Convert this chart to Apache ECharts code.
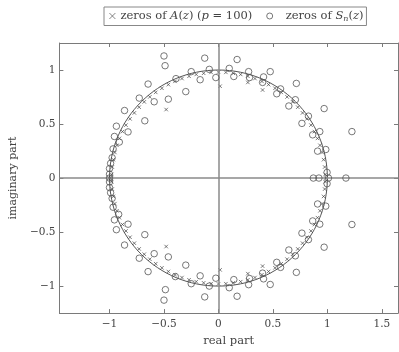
<!DOCTYPE html>
<html>
<head>
<meta charset="utf-8">
<script src="https://cdn.jsdelivr.net/npm/echarts@6/dist/echarts.min.js"></script>
<style>
html,body{margin:0;padding:0;background:#fff;}
#c{width:399px;height:352px;}
</style>
</head>
<body>
<div id="c"></div>
<script>
// ---- data ----
const realTicks = [-1, -0.5, 0, 0.5, 1, 1.5];
const imagTicks = [-1, -0.5, 0, 0.5, 1];
const seriesNames = ['zeros of A(z) (p = 100)', 'zeros of S_n(z)'];

// zeros of A(z), p = 100 (crosses)
const zerosA = [
  [0.985,0.0],[0.98,0.034],[0.975,0.102],[0.965,0.170],[0.951,0.237],[0.932,0.303],[0.909,0.367],
  [0.881,0.430],[0.849,0.490],[0.812,0.548],[0.772,0.603],[0.728,0.656],[0.681,0.705],
  [0.630,0.751],[0.576,0.793],[0.519,0.831],[0.460,0.865],[0.399,0.895],[0.335,0.921],
  [0.270,0.942],[0.204,0.959],[0.136,0.970],[0.068,0.978],[0.0,0.98],[-0.068,0.978],
  [-0.136,0.970],[-0.204,0.959],[-0.270,0.942],[-0.335,0.921],[-0.399,0.895],[-0.460,0.865],
  [-0.519,0.831],[-0.576,0.793],[-0.630,0.751],[-0.681,0.705],[-0.728,0.656],[-0.772,0.603],
  [-0.812,0.548],[-0.849,0.490],[-0.881,0.430],[-0.909,0.367],[-0.932,0.303],[-0.951,0.237],
  [-0.965,0.170],[-0.975,0.102],[-0.98,0.034],
  [-0.48,0.634],[0.015,0.85],[0.27,0.885],[0.405,0.815],
  [-0.985,0.0],[0.98,-0.034],[0.975,-0.102],[0.965,-0.170],[0.951,-0.237],[0.932,-0.303],[0.909,-0.367],
  [0.881,-0.430],[0.849,-0.490],[0.812,-0.548],[0.772,-0.603],[0.728,-0.656],[0.681,-0.705],
  [0.630,-0.751],[0.576,-0.793],[0.519,-0.831],[0.460,-0.865],[0.399,-0.895],[0.335,-0.921],
  [0.270,-0.942],[0.204,-0.959],[0.136,-0.970],[0.068,-0.978],[0.0,-0.98],[-0.068,-0.978],
  [-0.136,-0.970],[-0.204,-0.959],[-0.270,-0.942],[-0.335,-0.921],[-0.399,-0.895],[-0.460,-0.865],
  [-0.519,-0.831],[-0.576,-0.793],[-0.630,-0.751],[-0.681,-0.705],[-0.728,-0.656],[-0.772,-0.603],
  [-0.812,-0.548],[-0.849,-0.490],[-0.881,-0.430],[-0.909,-0.367],[-0.932,-0.303],[-0.951,-0.237],
  [-0.965,-0.170],[-0.975,-0.102],[-0.98,-0.034],
  [-0.48,-0.634],[0.015,-0.85],[0.27,-0.885],[0.405,-0.815]
];

// zeros of S_n(z) (circles)
const zerosS = [
  [-0.50,1.13],[-0.49,1.04],[-0.126,1.11],[-0.25,0.985],[-0.084,1.006],[-0.024,0.93],
  [-0.168,0.91],[-0.30,0.80],[-0.39,0.92],[-0.46,0.73],[-0.59,0.706],[-0.646,0.87],
  [-0.727,0.74],[-0.862,0.625],[-0.676,0.53],[-0.937,0.48],[-0.83,0.427],[-0.955,0.385],
  [-0.91,0.333],[-0.967,0.27],[-0.976,0.188],[-0.99,0.136],[-1.0,0.088],[-1.0,0.036],
  [-1.0,0.0],
  [0.171,1.097],[0.099,1.015],[0.141,0.94],[0.277,0.985],[0.285,0.93],[0.475,0.985],
  [0.414,0.936],[0.405,0.885],[0.57,0.825],[0.535,0.78],[0.715,0.876],[0.706,0.725],
  [0.646,0.667],[0.826,0.573],[0.97,0.643],[0.766,0.506],[0.93,0.43],[0.865,0.40],
  [0.985,0.264],[0.91,0.249],[0.997,0.052],[1.225,0.43],
  [0.871,0.0],[0.922,0.0],[1.01,0.0],[1.17,0.0],
  [-1.0,-0.036],[-1.0,-0.088],[-0.99,-0.136],[-0.976,-0.188],[-0.967,-0.27],[-0.916,-0.336],
  [-0.955,-0.387],[-0.83,-0.427],[-0.937,-0.478],[-0.676,-0.524],[-0.862,-0.62],
  [-0.727,-0.742],[-0.59,-0.70],[-0.46,-0.73],[-0.646,-0.866],[-0.30,-0.806],
  [-0.487,-1.033],[-0.50,-1.13],[-0.25,-0.978],[-0.168,-0.905],[-0.126,-1.10],
  [-0.084,-1.0],[-0.024,-0.927],[-0.396,-0.912],
  [0.171,-1.094],[0.099,-1.015],[0.141,-0.94],[0.277,-0.987],[0.285,-0.93],[0.475,-0.985],
  [0.414,-0.933],[0.405,-0.88],[0.535,-0.78],[0.57,-0.827],[0.715,-0.873],[0.706,-0.72],
  [0.646,-0.666],[0.826,-0.57],[0.97,-0.64],[0.766,-0.51],[0.93,-0.427],[0.865,-0.397],
  [0.985,-0.26],[0.91,-0.24],[0.997,-0.052],[1.225,-0.43]
];

// ---- chart ----
const FONT = 'DejaVu Serif';
const TXT = '#444';
const FRAME = '#7a7a7a';
const fmt = v => (v < 0 ? '\u2212' + Math.abs(v) : String(v));
const crossPath = 'path://M0,0L10,10M10,0L0,10';
const CLEAR = 'rgba(255,255,255,0)';

const chart = echarts.init(document.getElementById('c'), null, {renderer: 'canvas'});

const axisCommon = {
  type: 'value',
  splitLine: {show: false},
  axisLine: {show: true, onZero: false, lineStyle: {color: FRAME, width: 1}},
};

const option = {
  animation: false,
  backgroundColor: '#fff',
  textStyle: {fontFamily: FONT},
  grid: {left: 53, top: 43, right: 1, bottom: 36, containLabel: false},
  legend: {
    left: 104, top: 7,
    padding: [3, 3, 3, 5],
    itemWidth: 6, itemHeight: 6, itemGap: 14,
    borderColor: '#888', borderWidth: 1,
    backgroundColor: '#fff',
    data: [
      {name: seriesNames[0], icon: crossPath, itemStyle: {color: CLEAR, borderColor: '#444', borderWidth: 0.8}},
      {name: seriesNames[1], icon: 'circle', itemStyle: {color: CLEAR, borderColor: '#555', borderWidth: 0.8}}
    ],
    textStyle: {fontFamily: FONT, fontSize: 11.5, color: TXT,
      rich: {
        i: {fontFamily: FONT, fontSize: 11.5, fontStyle: 'italic', color: TXT},
        sub: {fontFamily: FONT, fontSize: 8, fontStyle: 'italic', color: TXT, padding: [5, 0, 0, 0]},
        g: {width: 8}
      }},
    formatter: name => name === seriesNames[0]
      ? 'zeros of {i|A}({i|z}) ({i|p} = 100)'
      : '{g|}zeros of {i|S}{sub|n}({i|z})'
  },
  xAxis: [
    Object.assign({}, axisCommon, {
      min: -1.46, max: 1.648, position: 'bottom',
      name: 'real part', nameLocation: 'middle', nameGap: 21,
      nameTextStyle: {fontFamily: FONT, fontSize: 11.5, color: TXT},
      axisTick: {show: true, inside: true, length: 4, customValues: realTicks, lineStyle: {color: FRAME}},
      axisLabel: {customValues: realTicks, formatter: fmt, color: TXT, fontFamily: FONT, fontSize: 10.5, margin: 6}
    }),
    Object.assign({}, axisCommon, {
      min: -1.46, max: 1.648, position: 'top',
      axisTick: {show: true, inside: true, length: 4, customValues: realTicks, lineStyle: {color: FRAME}},
      axisLabel: {show: false}
    })
  ],
  yAxis: [
    Object.assign({}, axisCommon, {
      min: -1.25, max: 1.25, position: 'left',
      name: 'imaginary part', nameLocation: 'middle', nameGap: 35,
      nameTextStyle: {fontFamily: FONT, fontSize: 11, color: TXT},
      axisTick: {show: true, inside: true, length: 4, customValues: imagTicks, lineStyle: {color: FRAME}},
      axisLabel: {customValues: imagTicks, formatter: fmt, color: TXT, fontFamily: FONT, fontSize: 10.5, margin: 4}
    }),
    Object.assign({}, axisCommon, {
      min: -1.25, max: 1.25, position: 'right',
      axisTick: {show: true, inside: true, length: 4, customValues: imagTicks, lineStyle: {color: FRAME}},
      axisLabel: {show: false}
    })
  ],
  series: [
    {
      name: seriesNames[0], type: 'scatter', xAxisIndex: 0, yAxisIndex: 0,
      symbol: crossPath, symbolSize: 3.5,
      itemStyle: {color: CLEAR, borderColor: '#333', borderWidth: 0.8},
      data: zerosA, z: 4,
      markLine: {
        silent: true, symbol: 'none', label: {show: false},
        lineStyle: {color: '#8a8a8a', width: 1.5, type: 'solid'},
        data: [{xAxis: 0}, {yAxis: 0}]
      }
    },
    {
      name: seriesNames[1], type: 'scatter', xAxisIndex: 0, yAxisIndex: 0,
      symbol: 'circle', symbolSize: 6.5,
      itemStyle: {color: CLEAR, borderColor: '#555', borderWidth: 0.8, opacity: 1},
      data: zerosS, z: 5
    }
  ]
};
chart.setOption(option);

// unit circle reference drawn through the axes' scales
const c0 = chart.convertToPixel({xAxisIndex: 0, yAxisIndex: 0}, [0, 0]);
const cx1 = chart.convertToPixel({xAxisIndex: 0, yAxisIndex: 0}, [1, 0]);
const cy1 = chart.convertToPixel({xAxisIndex: 0, yAxisIndex: 0}, [0, 1]);
chart.setOption({
  graphic: [{
    type: 'ellipse', silent: true, z: 3,
    shape: {cx: c0[0], cy: c0[1], rx: Math.abs(cx1[0] - c0[0]), ry: Math.abs(cy1[1] - c0[1])},
    style: {fill: 'none', stroke: '#555', lineWidth: 1}
  }]
});
</script>
</body>
</html>
